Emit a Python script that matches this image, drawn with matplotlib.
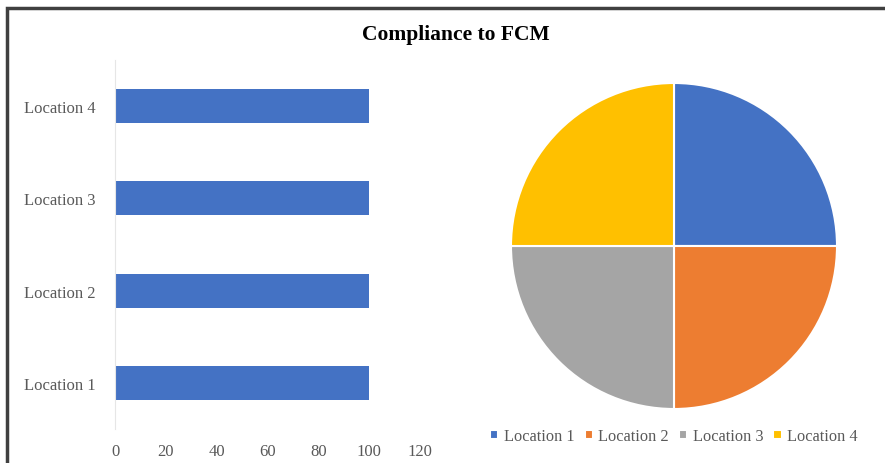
import matplotlib.pyplot as plt
from matplotlib.patches import Rectangle

locations = ["Location 1", "Location 2", "Location 3", "Location 4"]
compliance = [100, 100, 100, 100]
pie_colors = ["#4472C4", "#ED7D31", "#A5A5A5", "#FFC000"]
bar_color = "#4472C4"
x_ticks = [0, 20, 40, 60, 80, 100, 120]

plt.rcParams['font.family'] = ['Liberation Serif', 'DejaVu Serif']
W, H = 885, 464
fig = plt.figure(figsize=(W / 100, H / 100), dpi=100)

# outer frame
fig.patches.append(Rectangle((7 / W, -0.1), 1.2, 1 - 9 / H + 0.1, transform=fig.transFigure,
                             fill=False, edgecolor="#404040", linewidth=2.5))

fig.text(456 / W, 1 - 35 / H, "Compliance to FCM", ha="center", va="center",
         fontsize=15.5, fontweight="bold", color="black")

# bar chart
ax = fig.add_axes([115 / W, 1 - 430 / H, (420 - 115) / W, (430 - 61) / H])
ax.barh(range(len(locations)), compliance, height=0.37, color=bar_color)
ax.set_xlim(0, 120)
ax.set_ylim(-0.5, 3.5)
ax.set_xticks(x_ticks)
ax.set_yticks(range(len(locations)))
ax.set_yticklabels(locations)
for s in ["top", "right", "bottom"]:
    ax.spines[s].set_visible(False)
ax.spines["left"].set_color("#E6E6E6")
ax.tick_params(length=0, colors="#595959", labelsize=12)
ax.tick_params(axis="x", pad=10)
ax.tick_params(axis="y", pad=14)

# pie chart
r = 163
pax = fig.add_axes([(674 - r) / W, 1 - (247 + r) / H, 2 * r / W, 2 * r / H])
wedges, _ = pax.pie(compliance, colors=pie_colors, startangle=90, counterclock=False,
                    wedgeprops=dict(edgecolor="white", linewidth=1.5))
pax.set_aspect("auto")
pax.set_xlim(-1, 1)
pax.set_ylim(-1, 1)
leg = fig.legend(wedges, locations, loc="center", bbox_to_anchor=(674 / W, 1 - 437 / H),
                 ncol=4, frameon=False, handlelength=0.5, handleheight=0.5,
                 handletextpad=0.35, columnspacing=0.6, fontsize=11.8, labelcolor="#595959")

fig.savefig("out.png", dpi=100)
